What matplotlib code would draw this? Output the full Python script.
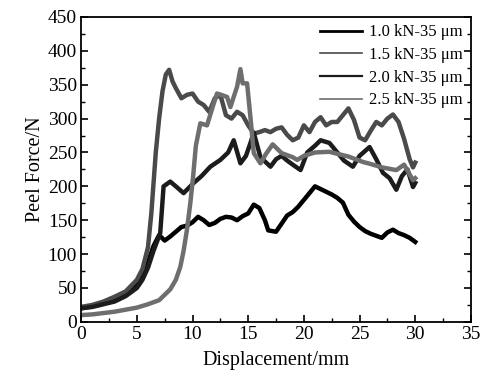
import matplotlib
matplotlib.use("Agg")
import matplotlib.pyplot as plt
from matplotlib.ticker import MultipleLocator

plt.rcParams['font.family'] = ['Liberation Serif', 'DejaVu Serif']
plt.rcParams['mathtext.fontset'] = 'stix'

labels = ['1.0 kN-35 μm', '1.5 kN-35 μm', '2.0 kN-35 μm', '2.5 kN-35 μm']
colors = ['#000000', '#4a4a4a', '#1c1c1c', '#6e6e6e']

x10 = [0, 1, 2, 3, 4, 5, 5.5, 6, 6.5, 7, 7.5, 8, 8.5, 9, 9.5, 10, 10.5, 11, 11.5, 12, 12.5, 13,
       13.5, 14, 14.5, 15, 15.5, 16, 16.5, 16.8, 17.5, 18, 18.5, 19, 19.5, 20, 20.5, 21, 21.5,
       22, 22.5, 23, 23.5, 24, 24.5, 25, 25.5, 26, 26.5, 27, 27.5, 28, 28.5, 29, 29.5, 30]
y10 = [20, 23, 27, 32, 40, 55, 68, 88, 112, 128, 120, 126, 133, 140, 142, 147, 155, 150, 143, 146,
       152, 155, 154, 150, 156, 160, 173, 168, 150, 135, 133, 145, 157, 162, 170, 180, 190, 200, 196,
       192, 188, 183, 176, 158, 148, 140, 134, 130, 127, 124, 132, 136, 131, 128, 124, 118]

x15 = [0, 1, 2, 3, 4, 5, 5.5, 6, 6.3, 6.7, 7.0, 7.3, 7.6, 7.9, 8.2, 8.5, 9, 9.5, 10, 10.5, 11,
       11.5, 12, 12.5, 13, 13.5, 14, 14.5, 15, 15.5, 16, 16.5, 17, 17.5, 18, 18.5, 19, 19.5, 20,
       20.5, 21, 21.5, 22, 22.5, 23, 23.5, 24, 24.5, 25, 25.5, 26, 26.5, 27, 27.5, 28, 28.5, 29,
       29.5, 29.8, 30]
y15 = [22, 25, 30, 37, 45, 62, 78, 110, 160, 250, 300, 340, 365, 372, 355, 345, 330, 335, 337, 325,
       320, 310, 330, 335, 305, 300, 310, 305, 290, 278, 280, 283, 280, 285, 287, 276, 268, 272, 290,
       280, 295, 302, 290, 295, 295, 305, 315, 298, 272, 268, 282, 295, 290, 300, 306, 295, 270,
       240, 228, 235]

x20 = [0, 1, 2, 3, 4, 5, 5.5, 6, 6.5, 7.1, 7.4, 8, 8.5, 9.2, 10.1, 10.8, 11.6, 12.5, 13.2,
       13.7, 14.3, 14.8, 15.2, 15.5, 16.1, 17, 17.5, 18, 18.5, 19, 19.7, 20.3, 21, 21.5, 22.3,
       23, 23.6, 24.4, 25, 25.9, 26.5, 27.1, 27.7, 28.3, 28.8, 29.3, 29.8, 30]
y20 = [20, 22, 26, 30, 38, 50, 62, 80, 105, 131, 200, 207, 200, 190, 205, 215, 229, 239, 250,
       268, 234, 245, 264, 279, 243, 229, 240, 245, 238, 232, 224, 250, 260, 268, 264, 250, 238, 229,
       245, 258, 240, 220, 212, 195, 215, 225, 199, 205]

x25 = [0, 1, 2, 3, 4, 5, 6, 7, 8, 8.5, 8.9, 9.2, 9.5, 9.8, 10.05, 10.3, 10.7, 11.3, 11.9, 12.2,
       13.1, 13.4, 14, 14.3, 14.5, 14.9, 15.2, 15.5, 16.1, 16.6, 17.2, 18, 19, 19.4, 20, 21, 22.3,
       23, 24, 25.3, 26, 27, 28.3, 29, 29.8, 30]
y25 = [10, 11, 13, 15, 18, 21, 26, 32, 48, 62, 81, 105, 136, 175, 214, 260, 293, 290, 322, 337,
       332, 317, 347, 373, 352, 352, 302, 249, 234, 248, 262, 249, 243, 239, 245, 250, 251, 248, 244,
       236, 233, 228, 224, 232, 209, 212]

xs = [x10, x15, x20, x25]
ys = [y10, y15, y20, y25]

fig = plt.figure(figsize=(4.89, 3.85), dpi=100)
ax = fig.add_axes([0.166, 0.164, 0.797, 0.792])

for x, y, c, lab in zip(xs, ys, colors, labels):
    ax.plot(x, y, color=c, lw=3.2, label=lab)

ax.set_xlim(0, 35)
ax.set_ylim(0, 450)
ax.xaxis.set_major_locator(MultipleLocator(5))
ax.xaxis.set_minor_locator(MultipleLocator(2.5))
ax.yaxis.set_major_locator(MultipleLocator(50))
ax.yaxis.set_minor_locator(MultipleLocator(25))
ax.tick_params(which='both', direction='in', right=True, top=False, labelsize=14, pad=3)
ax.tick_params(which='major', length=5, width=1.2)
ax.tick_params(which='minor', length=3, width=1.0)
for s in ax.spines.values():
    s.set_linewidth(1.3)

ax.set_xlabel('Displacement/mm', fontsize=14.5, labelpad=6)
ax.set_ylabel('Peel Force/N', fontsize=14.5, labelpad=2)

leg = ax.legend(loc='upper right', frameon=False, fontsize=12, handlelength=2.5,
                handletextpad=0.4, labelspacing=0.4, borderaxespad=0.1,
                bbox_to_anchor=(1.0, 1.003))
for h, lw in zip(leg.get_lines(), [2.0, 1.2, 1.6, 1.2]):
    h.set_linewidth(lw)

fig.savefig('out.png', dpi=100)
